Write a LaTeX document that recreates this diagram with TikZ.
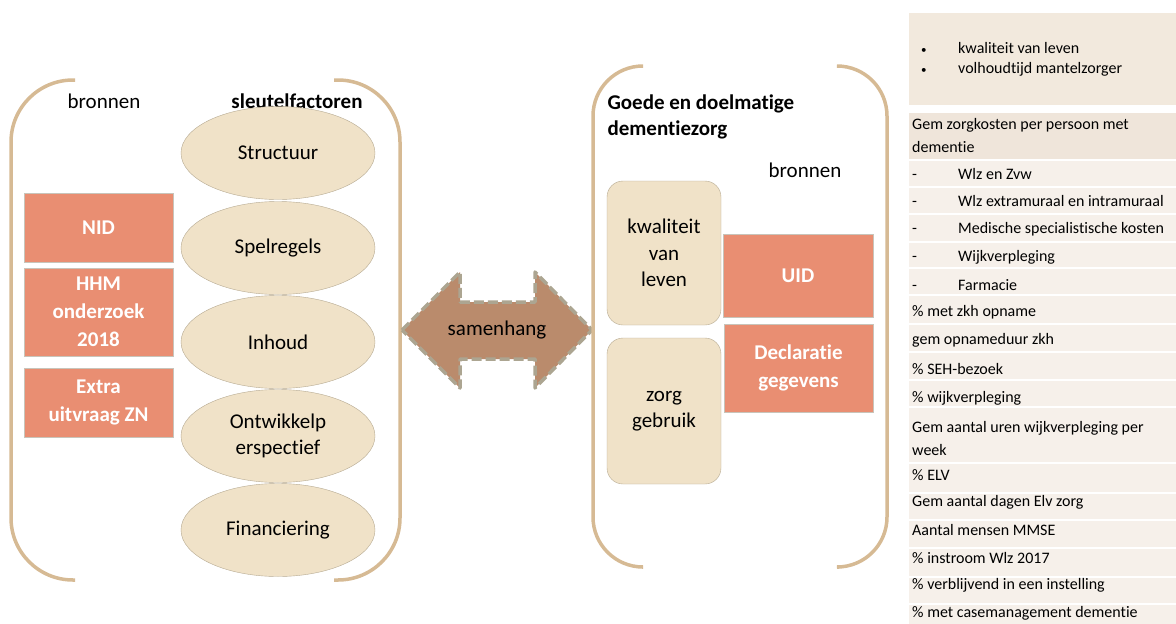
\documentclass[tikz,border=0pt]{standalone}
\usepackage{fontspec}
\setmainfont{Carlito}[Ligatures=NoCommon]
\usetikzlibrary{shapes.geometric}
\definecolor{brace}{RGB}{214,186,148}
\definecolor{cream}{RGB}{240,226,200}
\definecolor{creamline}{RGB}{182,170,146}
\definecolor{salmon}{RGB}{233,142,114}
\definecolor{boxline}{RGB}{200,196,186}
\definecolor{arrowfill}{RGB}{186,139,108}
\definecolor{arrowline}{RGB}{172,165,145}
\definecolor{tablehead}{RGB}{242,233,221}
\definecolor{rowdark}{RGB}{239,229,218}
\definecolor{rowlight}{RGB}{246,240,234}

\tikzset{
  bracket/.style={brace,line width=3.5pt,rounded corners=62pt},
  factor/.style={ellipse,draw=creamline,fill=cream,minimum width=194pt,minimum height=93pt,
    inner sep=0pt,align=center,font=\fontsize{21}{26}\selectfont},
  bron/.style={rectangle,draw=boxline,fill=salmon,text=white,inner sep=0pt,align=center,
    font=\fontsize{21}{28}\selectfont\bfseries},
  uitkomst/.style={rectangle,rounded corners=16pt,draw=creamline,fill=cream,inner sep=0pt,
    minimum width=114pt,align=center,font=\fontsize{21}{26.5}\selectfont},
  kop/.style={font=\fontsize{21}{26}\selectfont},
  rij/.style={anchor=west,inner sep=0pt,font=\fontsize{16}{23}\selectfont,align=left},
}
\newcommand{\stip}{\makebox[37pt][l]{\fontsize{11}{11}\selectfont•}}
\newcommand{\streep}{\makebox[46pt][l]{-}}

\begin{document}
\begin{tikzpicture}[x=1pt,y={(0pt,-1pt)}]
  \useasboundingbox (0,0) rectangle (1176,624);
  % sleutelfactoren
  \begin{scope}
    \draw[bracket](75,80)--(11,80)--(11,580)--(75,580);
    \draw[bracket](334,80)--(400,80)--(400,580)--(334,580);
    \node[kop] (bronnenL) at (104,101){bronnen};
    \node[kop,font=\fontsize{21}{26}\selectfont\bfseries] (sleutel) at (297,101){sleutelfactoren};
    \node[factor] (structuur) at (278,153){Structuur};
    \node[factor] (spelregels) at (278,248){Spelregels};
    \node[factor] (inhoud) at (278,342){Inhoud};
    \node[factor] (perspectief) at (278,436){Ontwikkelp\\erspectief};
    \node[factor] (financiering) at (278,530){Financiering};
    \node[bron,minimum width=149pt,minimum height=69pt] (nid) at (98.5,227.5){NID};
    \node[bron,minimum width=149pt,minimum height=88pt] (hhm) at (98.5,312){HHM\\onderzoek\\2018};
    \node[bron,minimum width=149pt,minimum height=69pt] (extra) at (98.5,402.5){Extra\\uitvraag ZN};
  \end{scope}
  % samenhang
  \filldraw[fill=arrowfill,draw=arrowline,line width=3.5pt,dash pattern=on 10pt off 4pt,line join=round]
    (402,330)--(460,272)--(460,302)--(535,302)--(535,272)--(592,330)--(535,388)--(535,359)
    --(460,359)--(460,388)--cycle;
  \node[kop] (samenhang) at (497,330){samenhang};
  % dementiezorg
  \begin{scope}
    \draw[bracket,rounded corners=50pt](642,66)--(593,66)--(593,567)--(642,567);
    \draw[bracket,rounded corners=50pt](839,66)--(887,66)--(887,567)--(839,567);
    \node[kop,anchor=west,align=left,font=\fontsize{21}{26}\selectfont\bfseries] (doel) at (604,117)
      {Goede en doelmatige\\dementiezorg};
    \node[kop] (bronnenR) at (805,170){bronnen};
    \node[uitkomst,minimum height=144pt] (kwaliteit) at (664,253){kwaliteit\\van\\leven};
    \node[uitkomst,minimum height=146pt] (gebruik) at (664,411){zorg\\gebruik};
    \node[bron,minimum width=150pt,minimum height=83pt] (uid) at (798,275.5){UID};
    \node[bron,minimum width=149pt,minimum height=88pt] (declaratie) at (798.5,368){Declaratie\\gegevens};
  \end{scope}
  % indicatoren
  \fill[tablehead](909,13) rectangle (1176,105);
  \node[rij] (bullet1) at (921,48){\stip kwaliteit van leven};
  \node[rij] (bullet2) at (921,69){\stip volhoudtijd mantelzorger};
  \fill[rowdark](909,113) rectangle (1176,159);
  \fill[rowlight](909,161) rectangle (1176,186);
  \fill[rowlight](909,188) rectangle (1176,213);
  \fill[rowlight](909,215) rectangle (1176,241);
  \fill[rowlight](909,243) rectangle (1176,267);
  \fill[rowlight](909,269) rectangle (1176,294);
  \fill[rowlight](909,296) rectangle (1176,323);
  \fill[rowlight](909,325) rectangle (1176,351);
  \fill[rowlight](909,353) rectangle (1176,379);
  \fill[rowlight](909,381) rectangle (1176,406);
  \fill[rowlight](909,408) rectangle (1176,462);
  \fill[rowlight](909,464) rectangle (1176,492);
  \fill[rowlight](909,494) rectangle (1176,519);
  \fill[rowlight](909,521) rectangle (1176,547);
  \fill[rowlight](909,549) rectangle (1176,576);
  \fill[rowlight](909,578) rectangle (1176,603);
  \fill[rowlight](909,605) rectangle (1176,624);
  \node[rij] (kosten) at (912,136){Gem zorgkosten per persoon met\\dementie};
  \node[rij] (wlzzvw) at (912,174){\streep Wlz en Zvw};
  \node[rij] (wlzmuraal) at (912,201){\streep Wlz extramuraal en intramuraal};
  \node[rij] (medisch) at (912,229){\streep Medische specialistische kosten};
  \node[rij] (wijk) at (912,257){\streep Wijkverpleging};
  \node[rij] (farmacie) at (912,285){\streep Farmacie};
  \node[rij] (zkh) at (912,312){\% met zkh opname};
  \node[rij] (opnameduur) at (912,340){gem opnameduur zkh};
  \node[rij] (seh) at (912,369){\% SEH-bezoek};
  \node[rij] (wijkperc) at (912,398){\% wijkverpleging};
  \node[rij] (uren) at (912,438){Gem aantal uren wijkverpleging per\\week};
  \node[rij] (elv) at (912,475){\% ELV};
  \node[rij] (dagen) at (912,502){Gem aantal dagen Elv zorg};
  \node[rij] (mmse) at (912,530){Aantal mensen MMSE};
  \node[rij] (instroom) at (912,558){\% instroom Wlz 2017};
  \node[rij] (verblijf) at (912,585){\% verblijvend in een instelling};
  \node[rij] (casemanagement) at (912,613){\% met casemanagement dementie};
\end{tikzpicture}
\end{document}
